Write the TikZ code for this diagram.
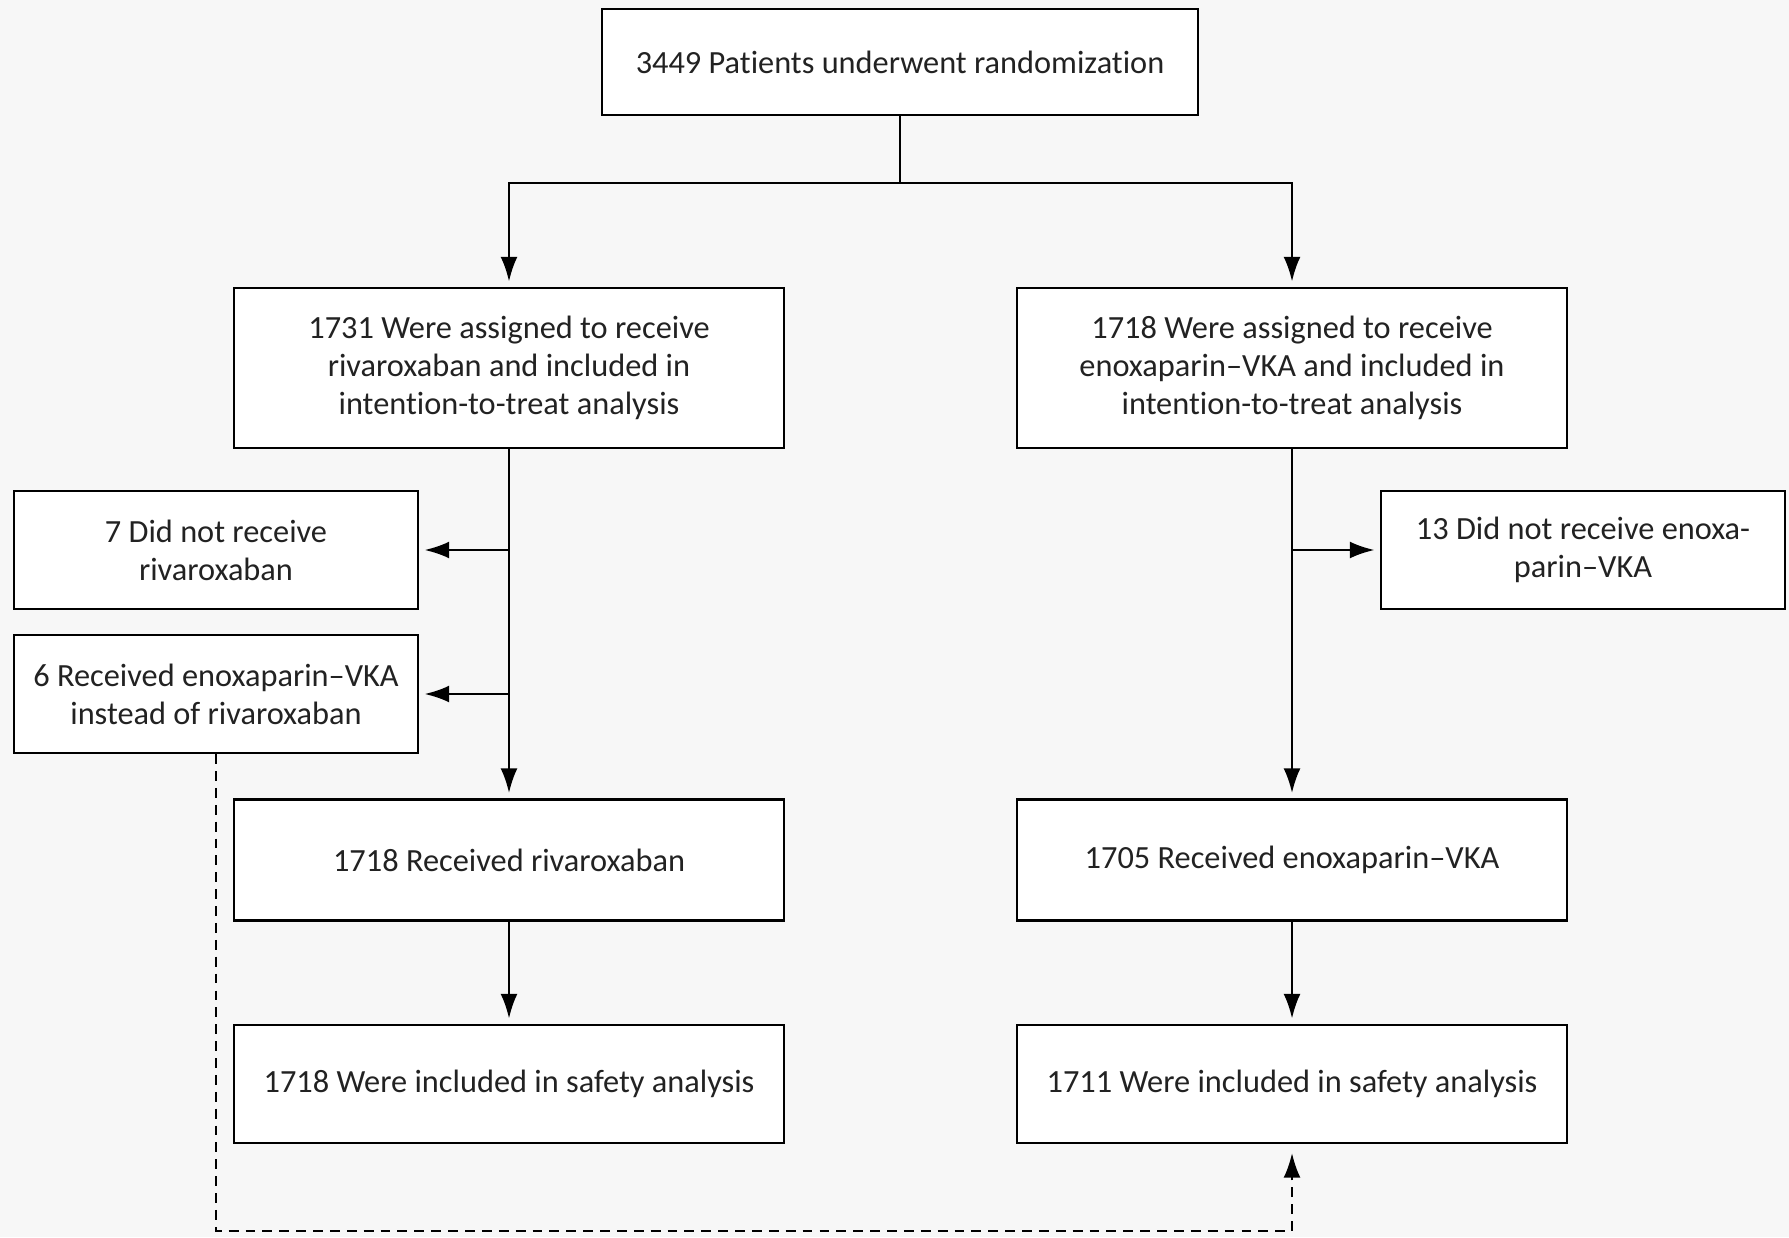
\documentclass[tikz,border=0pt]{standalone}
\usepackage{fontspec}
\setmainfont{Carlito}[Ligatures={NoCommon,NoContextual}]
\usetikzlibrary{arrows.meta}
\definecolor{pagegray}{HTML}{F7F7F7}
\definecolor{inkgray}{HTML}{222222}
\begin{document}
\begin{tikzpicture}[x=0.01cm, y=-0.01cm, font=\fontsize{9.2}{10.8}\selectfont,
  box/.style={draw, fill=white, line width=0.65pt, align=center, inner sep=0pt, text=inkgray},
  widebox/.style={box, minimum width=5.50cm},
  sidebox/.style={box, minimum width=4.04cm, minimum height=1.18cm},
  link/.style={line width=0.65pt, -{Latex[length=7pt,width=4.8pt]}, shorten >=1.5pt}]
\fill[pagegray] (0,0) rectangle (1789,1237);
% boxes
\node[box, minimum width=5.96cm, minimum height=1.06cm] (rand) at (900,62) {3449 Patients underwent randomization};
\node[widebox, minimum height=1.60cm] (itt_riva) at (509,368) {1731 Were assigned to receive\\rivaroxaban and included in\\intention-to-treat analysis};
\node[widebox, minimum height=1.60cm] (itt_enox) at (1292,368) {1718 Were assigned to receive\\enoxaparin--VKA and included in\\intention-to-treat analysis};
\node[sidebox] (no_riva) at (216,550) {7 Did not receive\\rivaroxaban};
\node[sidebox] (swap) at (216,694) {6 Received enoxaparin--VKA\\instead of rivaroxaban};
\node[sidebox] (no_enox) at (1583,550) {13 Did not receive enoxa-\\parin--VKA};
\node[widebox, minimum height=1.21cm] (got_riva) at (509,860) {1718 Received rivaroxaban};
\node[widebox, minimum height=1.21cm] (got_enox) at (1292,860) {1705 Received enoxaparin--VKA};
\node[widebox, minimum height=1.18cm] (safe_riva) at (509,1084) {1718 Were included in safety analysis};
\node[widebox, minimum height=1.18cm] (safe_enox) at (1292,1084) {1711 Were included in safety analysis};
% connectors
\coordinate (split) at (900,183);
\coordinate (dashturn) at (216,1231);
\draw[line width=0.65pt] (rand.south) -- (split);
\draw[link] (split) -| (itt_riva.north);
\draw[link] (split) -| (itt_enox.north);
\draw[link] (itt_riva.south) -- (got_riva.north);
\draw[link] (itt_riva.south |- no_riva.east) -- (no_riva.east);
\draw[link] (itt_riva.south |- swap.east) -- (swap.east);
\draw[link] (itt_enox.south) -- (got_enox.north);
\draw[link] (itt_enox.south |- no_enox.west) -- (no_enox.west);
\draw[link] (got_riva.south) -- (safe_riva.north);
\draw[link] (got_enox.south) -- (safe_enox.north);
\draw[link, shorten >=2.5pt, dash pattern=on 2.8pt off 2pt] (swap.south) -- (dashturn) -| (safe_enox.south);
\end{tikzpicture}
\end{document}
